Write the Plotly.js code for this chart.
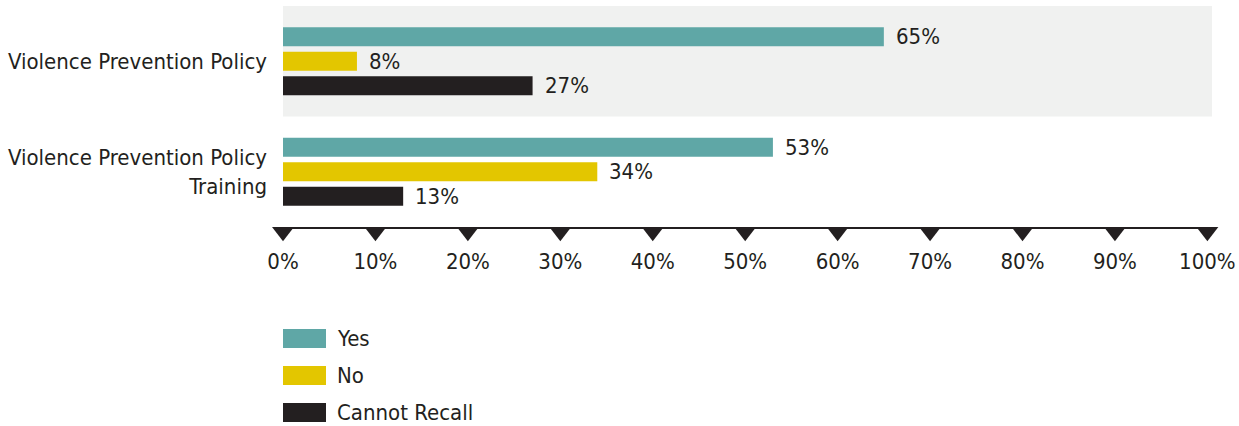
<!DOCTYPE html>
<html><head><meta charset="utf-8">
<script src="https://cdn.plot.ly/plotly-3.0.1.min.js"></script>
<style>html,body{margin:0;padding:0;background:#fff;}#chart{width:1239px;height:426px;}</style>
</head><body><div id="chart"></div>
<script>
const categories = ['Violence Prevention Policy', 'Violence Prevention Policy<br>Training'];
const seriesNames = ['Yes', 'No', 'Cannot Recall'];
const yesValues = [65, 53];
const noValues = [8, 34];
const recallValues = [27, 13];
const tickValues = [0, 10, 20, 30, 40, 50, 60, 70, 80, 90, 100];
const tickLabels = tickValues.map(v => v + '%');

const colors = ['#5fa7a6', '#e3c600', '#231f20'];
const FONT = '"DejaVu Sans Condensed", "Liberation Sans Narrow", Roboto, sans-serif';
const FS = 22;
const textColor = '#231f20';
const W = 1239, H = 426;
const M = {l: 283, r: 27, t: 6, b: 181};
const plotW = W - M.l - M.r, plotH = H - M.t - M.b;
const axisLineY = 227;                       // pixel row of the x axis line
const tickZone = (H - M.b) - axisLineY;      // pixels below axis line inside plot area
const splitFrac = tickZone / plotH;
const xMax = 100.5;
const paperY = py => (H - M.b - py) / plotH; // absolute pixel y -> paper

const series = [yesValues, noValues, recallValues];
const traces = series.map((vals, i) => ({
  type: 'bar', orientation: 'h', name: seriesNames[i],
  x: vals, y: categories,
  marker: {color: colors[i], line: {width: 0}},
  hoverinfo: 'skip', showlegend: false
}));
// triangle tick markers hanging under the axis line (y2 is measured in pixels)
const triSize = 19;
traces.push({
  type: 'scatter', mode: 'markers', x: tickValues,
  y: tickValues.map(() => -triSize / 4), yaxis: 'y2',
  marker: {symbol: 'triangle-down', size: triSize, color: textColor, line: {width: 0}},
  cliponaxis: false, hoverinfo: 'skip', showlegend: false
});

const shapes = [{
  type: 'rect', xref: 'paper', yref: 'y', x0: 0, x1: 1, y0: -0.5, y1: 0.5,
  fillcolor: '#f0f1f0', line: {width: 0}, layer: 'below'
}];

const annotations = [];
// value labels
series.forEach((vals, i) => {
  vals.forEach((v, j) => {
    annotations.push({
      x: v, y: categories[j], xref: 'x', yref: 'y',
      text: v + '%', showarrow: false, xanchor: 'left', yanchor: 'middle',
      xshift: 10, yshift: (1 - i) * 24.5,
      font: {family: FONT, size: FS, color: textColor}
    });
  });
});
// legend
seriesNames.forEach((name, i) => {
  const top = 329 + i * 37;
  shapes.push({
    type: 'rect', xref: 'paper', yref: 'paper',
    x0: 0, x1: 43 / plotW, y0: paperY(top), y1: paperY(top + 19),
    fillcolor: colors[i], line: {width: 0}
  });
  annotations.push({
    xref: 'paper', yref: 'paper', x: 52 / plotW, y: paperY(top + 9.5),
    text: name, showarrow: false, xanchor: 'left', yanchor: 'middle',
    font: {family: FONT, size: FS, color: textColor}
  });
});

const layout = {
  width: W, height: H, margin: M,
  paper_bgcolor: '#fff', plot_bgcolor: 'rgba(0,0,0,0)',
  barmode: 'group', bargap: 0.335, bargroupgap: 0.22,
  showlegend: false,
  font: {family: FONT, size: FS, color: textColor},
  xaxis: {
    anchor: 'y', range: [0, xMax], tickvals: tickValues, ticktext: tickLabels,
    showgrid: false, zeroline: false, showline: true, linecolor: textColor, linewidth: 1.5,
    ticks: '', ticklabelstandoff: 14, ticklabeloverflow: 'allow', fixedrange: true,
    tickfont: {family: FONT, size: FS, color: textColor}
  },
  yaxis: {
    domain: [splitFrac, 1], anchor: 'x',
    type: 'category', categoryorder: 'array', categoryarray: categories,
    autorange: 'reversed', showgrid: false, zeroline: false, showline: false,
    ticks: '', ticklabelstandoff: 15, fixedrange: true,
    tickfont: {family: FONT, size: FS, color: textColor}
  },
  yaxis2: {domain: [0, splitFrac], anchor: 'x', range: [-tickZone, 0],
           visible: false, fixedrange: true},
  shapes: shapes, annotations: annotations
};
Plotly.newPlot('chart', traces, layout, {staticPlot: true, displayModeBar: false});
</script></body></html>
